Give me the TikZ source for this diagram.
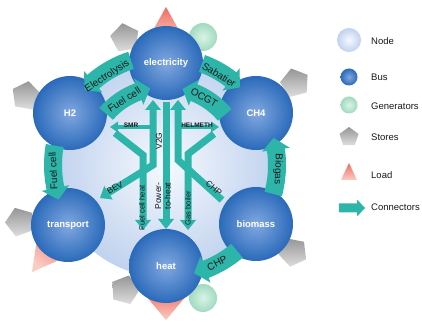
\documentclass[tikz,border=0pt]{standalone}
\usepackage{fontspec}
\setmainfont{Liberation Sans}
\usetikzlibrary{shapes.geometric,arrows.meta,calc}
\definecolor{conn}{RGB}{46,181,170}
\definecolor{busin}{RGB}{130,168,224}
\definecolor{busout}{RGB}{42,106,186}
\definecolor{nodein}{RGB}{246,249,254}
\definecolor{nodeout}{RGB}{192,210,238}
\definecolor{genin}{RGB}{218,243,230}
\definecolor{genout}{RGB}{160,218,192}
\definecolor{storetop}{RGB}{150,150,150}
\definecolor{storebot}{RGB}{222,222,222}
\definecolor{loadtop}{RGB}{238,108,98}
\definecolor{loadbot}{RGB}{250,205,196}
\definecolor{labcol}{RGB}{25,25,25}
\newcommand\ringarrow[3]{%
  \pgfmathsetmacro\rasgn{sign(#2-#1)}%
  \pgfmathsetmacro\rahead{12/#3*57.2958}%
  \pgfmathsetmacro\ramid{#2-\rasgn*\rahead}%
  \fill[conn] ($(C)+({#1}:{#3+9})$) arc[start angle=#1,end angle=\ramid,radius=#3+9]
    -- ($(C)+({\ramid}:{#3+14})$) -- ($(C)+({#2}:{#3})$) -- ($(C)+({\ramid}:{#3-14})$)
    -- ($(C)+({\ramid}:{#3-9})$) arc[start angle=\ramid,end angle=#1,radius=#3-9] -- cycle;}
\begin{document}
\begin{tikzpicture}[x=1pt,y=1pt,
  bignode/.style={circle,minimum size=224pt,inner sep=0,inner color=nodein,outer color=nodeout},
  bus/.style={circle,minimum size=74pt,inner sep=0,inner color=busin,outer color=busout,text=white,font=\bfseries\fontsize{9.5}{11}\selectfont},
  gen/.style={circle,minimum size=28pt,inner sep=0,inner color=genin,outer color=genout},
  store/.style={regular polygon,regular polygon sides=5,minimum size=30pt,inner sep=0,top color=storetop,bottom color=storebot},
  ringlbl/.style={font=\fontsize{10}{12}\selectfont,text=labcol,inner sep=0},
  inlbl/.style={font=\fontsize{8.5}{9.5}\selectfont,text=labcol,inner sep=0},
  smalllbl/.style={font=\fontsize{7.5}{9}\selectfont,text=labcol,inner sep=0},
  tinylbl/.style={font=\bfseries\fontsize{6.5}{8}\selectfont,text=labcol,inner sep=0},
  legtxt/.style={font=\fontsize{9.5}{11}\selectfont,text=labcol,anchor=west,inner sep=0},
  thick arrow/.style={draw=conn,line width=7pt,line join=miter,-{Triangle[width=16pt,length=10pt,line width=0pt]}},
  thin arrow/.style={draw=conn,line width=3.5pt,-{Triangle[width=11pt,length=8pt,line width=0pt]}},
  load/.style={top color=loadtop,bottom color=loadbot}
]
\useasboundingbox (0,0) rectangle (422,321);
\fill[white] (0,0) rectangle (422,321);
\coordinate (C) at (165,156);
\node[bignode] (bignode) at (C) {};

% stores
\node[store,shape border rotate=10] (selec) at (125,283) {};
\node[store,shape border rotate=-10] (sh2) at (26,225) {};
\node[store,shape border rotate=15] (sch4) at (295,238) {};
\node[store,shape border rotate=20] (strans) at (20,99) {};
\node[store,shape border rotate=-15] (sheat) at (125,31) {};
\node[store,shape border rotate=25] (sbio) at (293,69) {};
% generators
\node[gen] (gelec) at (203,284) {};
\node[gen] (gheat) at (203,23) {};
% loads
\shade[load] (166,314) -- (185,280) -- (147,280) -- cycle;
\shade[load] (166,1) -- (191,31) -- (141,31) -- cycle;
\shade[load,shading angle=-37] (32,49) -- (73.8,67.4) -- (38.8,94.2) -- cycle;

% buses
\node[bus] (elec) at (166,258) {electricity};
\node[bus] (h2) at (70,208) {H2};
\node[bus] (ch4) at (256,208) {CH4};
\node[bus] (trans) at (68,96) {transport};
\node[bus] (heat) at (166,55) {heat};
\node[bus] (bio) at (256,97) {biomass};

% ring connectors
\ringarrow{108}{137}{110}
\ringarrow{139}{101}{78}
\ringarrow{70}{46}{108}
\ringarrow{40}{77}{78}
\ringarrow{170}{198}{112}
\ringarrow{-15}{14}{112}
\ringarrow{-50}{-75}{112}
\node[ringlbl,rotate=33] (lelys) at ($(C)+(123:106)$) {Electrolysis};
\node[ringlbl,rotate=33] (lfc) at ($(C)+(122:77)$) {Fuel cell};
\node[ringlbl,rotate=-31] (lsab) at ($(C)+(59:105)$) {Sabatier};
\node[ringlbl,rotate=-30] (locgt) at ($(C)+(60:78)$) {OCGT};
\node[ringlbl,rotate=93] (lfc2) at ($(C)+(183:112)$) {Fuel cell};
\node[ringlbl,rotate=-92] (lbiog) at ($(C)+(-2:113)$) {Biogas};
\node[ringlbl,rotate=28] (lchp) at ($(C)+(-62:111)$) {CHP};

% inner connectors
\coordinate (smrA) at (150,194); \coordinate (smrB) at (110,194);
\coordinate (helA) at (178,194); \coordinate (helB) at (219,194);
\coordinate (v2gT) at (153,221); \coordinate (v2gK) at (153,156); \coordinate (bevT) at (100,123);
\coordinate (p2hA) at (166,219); \coordinate (p2hB) at (166,92);
\coordinate (fchA) at (115,188); \coordinate (fchK) at (143,166); \coordinate (fchB) at (143,91);
\coordinate (gbA) at (214,187); \coordinate (gbK) at (188,167); \coordinate (gbB) at (188,91);
\coordinate (chpA) at (222,121); \coordinate (chpK) at (178,161); \coordinate (chpB) at (178,221);
\draw[thin arrow] (smrA) -- (smrB);
\draw[thin arrow] (helA) -- (helB);
\draw[thick arrow] (fchA) -- (fchK) -- (fchB);
\draw[thick arrow] (gbA) -- (gbK) -- (gbB);
\draw[thick arrow] (p2hA) -- (p2hB);
\draw[thick arrow,{Triangle[width=16pt,length=10pt,line width=0pt]}-{Triangle[width=16pt,length=10pt,line width=0pt]}] (v2gT) -- (v2gK) -- (bevT);
\draw[thick arrow] (chpA) -- (chpK) -- (chpB);
\node[tinylbl] (lsmr) at (131,196) {SMR};
\node[tinylbl] (lhel) at (197,196) {HELMETH};
\node[inlbl,rotate=90] (lv2g) at (159,180) {V2G};
\node[inlbl,rotate=31] (lbev) at (115,133) {BEV};
\node[smalllbl,rotate=90] (lfch) at (142,113) {Fuel cell heat};
\node[inlbl,rotate=90,align=center] (lp2h) at (163,125) {Power-\\to-heat};
\node[smalllbl,rotate=90] (lgb) at (188,113) {Gas boiler};
\node[inlbl,rotate=-40] (lchp2) at (214,133) {CHP};

% legend
\node[circle,minimum size=24pt,inner sep=0,inner color=nodein,outer color=nodeout] (legnode) at (349,281) {};
\node[circle,minimum size=17pt,inner sep=0,inner color=busin,outer color=busout] (legbus) at (349,244) {};
\node[gen,minimum size=17pt] (leggen) at (349,216) {};
\node[store,minimum size=20pt] (legstore) at (349,184) {};
\shade[load] (349,158) -- (357,141) -- (341,141) -- cycle;
\fill[conn] (339,108.5) -- (357,108.5) -- (357,104.5) -- (365,113) -- (357,121.5) -- (357,117.5) -- (339,117.5) -- cycle;
\node[legtxt] (tnode) at (371,280) {Node};
\node[legtxt] (tbus) at (371,244) {Bus};
\node[legtxt] (tgen) at (371,215) {Generators};
\node[legtxt] (tstore) at (371,184) {Stores};
\node[legtxt] (tload) at (371,146) {Load};
\node[legtxt] (tconn) at (371,114) {Connectors};
\end{tikzpicture}
\end{document}
